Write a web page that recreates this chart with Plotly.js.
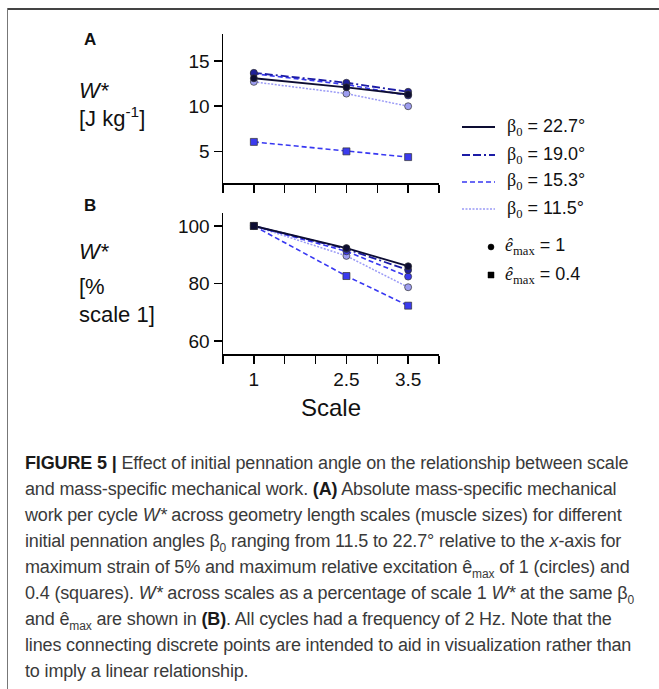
<!DOCTYPE html>
<html>
<head>
<meta charset="utf-8">
<script src="https://cdn.plot.ly/plotly-3.0.1.min.js"></script>
<style>
  html, body { margin: 0; padding: 0; background: #fff; }
  #wrap { position: relative; width: 659px; height: 689px; overflow: hidden; }
  #chart { position: absolute; left: 0; top: 0; width: 659px; height: 689px; }
  #frameTop { position: absolute; left: 7px; top: 8px; width: 652px; height: 2px; background: #444; }
  #frameLeft { position: absolute; left: 7px; top: 8px; width: 1px; height: 681px; background: #777; }
  #caption { position: absolute; left: 25px; top: 450px; font-family: "Liberation Sans", Arial, sans-serif;
             font-size: 18px; line-height: 26px; color: #3a3a3a; white-space: nowrap; letter-spacing: -0.15px; }
  #caption b { color: #1a1a1a; }
  #caption sub { font-size: 12px; line-height: 0; }
</style>
</head>
<body>
<div id="wrap"><div id="chart"></div><div id="frameTop"></div><div id="frameLeft"></div><div id="caption"></div></div>
<script>
// ---------------- DATA ----------------
const scales = [1, 2.5, 3.5];
const xTickVals = [1, 2.5, 3.5];
const xTickText = ['1', '2.5', '3.5'];

// Panel A: absolute W* [J kg^-1]
const wAbs_227 = [13.1, 12.1, 11.3];
const wAbs_190 = [13.7, 12.6, 11.6];
const wAbs_153 = [13.6, 12.4, 11.2];
const wAbs_115 = [12.7, 11.4, 10.0];
const wAbs_153_low = [6.05, 5.0, 4.37];   // e_max = 0.4

// Panel B: W* as % of scale 1
const wPct_227 = [100, 92.3, 86.0];
const wPct_190 = [100, 92.0, 84.7];
const wPct_153 = [100, 91.2, 82.4];
const wPct_115 = [100, 89.6, 78.7];
const wPct_153_low = [100, 82.6, 72.3];

const legendLabels = ['22.7°', '19.0°', '15.3°', '11.5°'];

const captionLines = [
  '<b>FIGURE 5 |</b> Effect of initial pennation angle on the relationship between scale',
  'and mass-specific mechanical work. <b>(A)</b> Absolute mass-specific mechanical',
  'work per cycle <i>W*</i> across geometry length scales (muscle sizes) for different',
  'initial pennation angles β<sub>0</sub> ranging from 11.5 to 22.7° relative to the <i>x</i>-axis for',
  'maximum strain of 5% and maximum relative excitation ê<sub>max</sub> of 1 (circles) and',
  '0.4 (squares). <i>W*</i> across scales as a percentage of scale 1 <i>W*</i> at the same β<sub>0</sub>',
  'and ê<sub>max</sub> are shown in <b>(B)</b>. All cycles had a frequency of 2 Hz. Note that the',
  'lines connecting discrete points are intended to aid in visualization rather than',
  'to imply a linear relationship.'
];
document.getElementById('caption').innerHTML = captionLines.join('<br>');

// ---------------- STYLE ----------------
const W = 659, H = 689;
const px = x => x / W;
const py = y => 1 - y / H;

const col = { c227: '#0d0d33', c190: '#1c1ca6', c153: '#3838f2', c115: '#9a9af6' };
const dash = { c227: 'solid', c190: '8px,3px,8px,3px,2px,3px', c153: '5px,3px', c115: '2px,1.5px' };
const lw = { c227: 1.8, c190: 1.8, c153: 1.6, c115: 1.5 };
const mcol = { c227: '#0d0d33', c190: '#1f1f99', c153: '#3b3bee', c115: '#9e9ef0' };

function tr(x, y, key, symbol, xa, ya) {
  return {
    type: 'scatter', mode: 'lines+markers', x: x, y: y, xaxis: xa, yaxis: ya,
    line: { color: col[key], width: lw[key], dash: dash[key] },
    marker: { symbol: symbol, size: 7, color: mcol[key], line: { color: '#333', width: 0.7 } },
    showlegend: false, hoverinfo: 'x+y', cliponaxis: false
  };
}

const data = [
  tr(scales, wAbs_115, 'c115', 'circle', 'x', 'y'),
  tr(scales, wAbs_153_low, 'c153', 'square', 'x', 'y'),
  tr(scales, wAbs_153, 'c153', 'circle', 'x', 'y'),
  tr(scales, wAbs_190, 'c190', 'circle', 'x', 'y'),
  tr(scales, wAbs_227, 'c227', 'circle', 'x', 'y'),
  tr(scales, wPct_115, 'c115', 'circle', 'x2', 'y2'),
  tr(scales, wPct_153_low, 'c153', 'square', 'x2', 'y2'),
  tr(scales, wPct_153, 'c153', 'circle', 'x2', 'y2'),
  tr(scales, wPct_190, 'c190', 'circle', 'x2', 'y2'),
  tr(scales, wPct_227, 'c227', ['square', 'circle', 'circle'], 'x2', 'y2')
];

const FONT = '"Liberation Sans", Arial, sans-serif';
const SERIF = 'Liberation Serif';

const axisCommon = {
  showline: true, linecolor: '#000', linewidth: 1.5, mirror: false,
  ticks: 'outside', ticklen: 8, tickwidth: 1.5, tickcolor: '#000',
  showgrid: false, zeroline: false, fixedrange: true,
  tickfont: { family: FONT, size: 19, color: '#111' }
};
const xMinor = { tick0: 0.5, dtick: 0.5, ticks: 'outside', ticklen: 8, tickwidth: 1.5, tickcolor: '#000', showgrid: false };

const xDomain = [px(223), px(439)];

const layout = {
  width: W, height: H,
  margin: { l: 0, r: 0, t: 0, b: 0 },
  paper_bgcolor: '#fff', plot_bgcolor: 'rgba(0,0,0,0)',
  showlegend: false,
  font: { family: FONT, color: '#111' },
  xaxis: Object.assign({}, axisCommon, {
    domain: xDomain, range: [0.5, 4], tickmode: 'array', tickvals: xTickVals,
    showticklabels: false, anchor: 'y', minor: xMinor
  }),
  yaxis: Object.assign({}, axisCommon, {
    domain: [py(183), py(34)], range: [1.5, 18], tickmode: 'array', tickvals: [5, 10, 15], anchor: 'x'
  }),
  xaxis2: Object.assign({}, axisCommon, {
    domain: xDomain, range: [0.5, 4], tickmode: 'array', tickvals: xTickVals, ticktext: xTickText,
    anchor: 'y2', minor: xMinor,
    title: { text: 'Scale', font: { family: FONT, size: 24, color: '#111' }, standoff: 10 }
  }),
  yaxis2: Object.assign({}, axisCommon, {
    domain: [py(354), py(213)], range: [55.5, 104.5], tickmode: 'array', tickvals: [60, 80, 100], anchor: 'x2'
  }),
  annotations: [],
  shapes: []
};

function ann(text, x, y, size, opts) {
  layout.annotations.push(Object.assign({
    text: text, x: px(x), y: py(y), xref: 'paper', yref: 'paper',
    xanchor: 'left', yanchor: 'middle', showarrow: false,
    font: { family: FONT, size: size, color: '#111' }
  }, opts || {}));
}

// Panel letters
ann('<b>A</b>', 90, 40, 17, { xanchor: 'center' });
ann('<b>B</b>', 90, 205, 17, { xanchor: 'center' });
// Y-axis labels
ann('<i>W*</i>', 77, 91, 22);
ann('[J kg<sup>-1</sup>]', 77, 117, 22);
ann('<i>W*</i>', 77, 251, 22);
ann('[%', 77, 286, 22);
ann('scale 1]', 77, 314, 22);

// Legend (line samples + labels)
const legKeys = ['c227', 'c190', 'c153', 'c115'];
const legY = [127, 155, 182, 209];
legKeys.forEach((k, i) => {
  layout.shapes.push({
    type: 'line', xref: 'paper', yref: 'paper',
    x0: px(462), x1: px(495), y0: py(legY[i]), y1: py(legY[i]),
    line: { color: col[k], width: lw[k], dash: dash[k] }
  });
  ann('<span style="font-family:' + SERIF + '">β<sub>0</sub></span> = ' + legendLabels[i], 505, legY[i], 18);
});
// marker legend
layout.shapes.push({
  type: 'circle', xref: 'paper', yref: 'paper',
  x0: px(488), x1: px(494), y0: py(250), y1: py(244),
  fillcolor: '#000', line: { color: '#000', width: 0.5 }
});
layout.shapes.push({
  type: 'rect', xref: 'paper', yref: 'paper',
  x0: px(488), x1: px(494), y0: py(278), y1: py(272),
  fillcolor: '#000', line: { color: '#000', width: 0.5 }
});
ann('<span style="font-family:' + SERIF + '"><i>ê</i><sub>max</sub></span> = 1', 503, 247, 18);
ann('<span style="font-family:' + SERIF + '"><i>ê</i><sub>max</sub></span> = 0.4', 503, 275, 18);

Plotly.newPlot('chart', data, layout, { staticPlot: true, displayModeBar: false });
</script>
</body>
</html>
